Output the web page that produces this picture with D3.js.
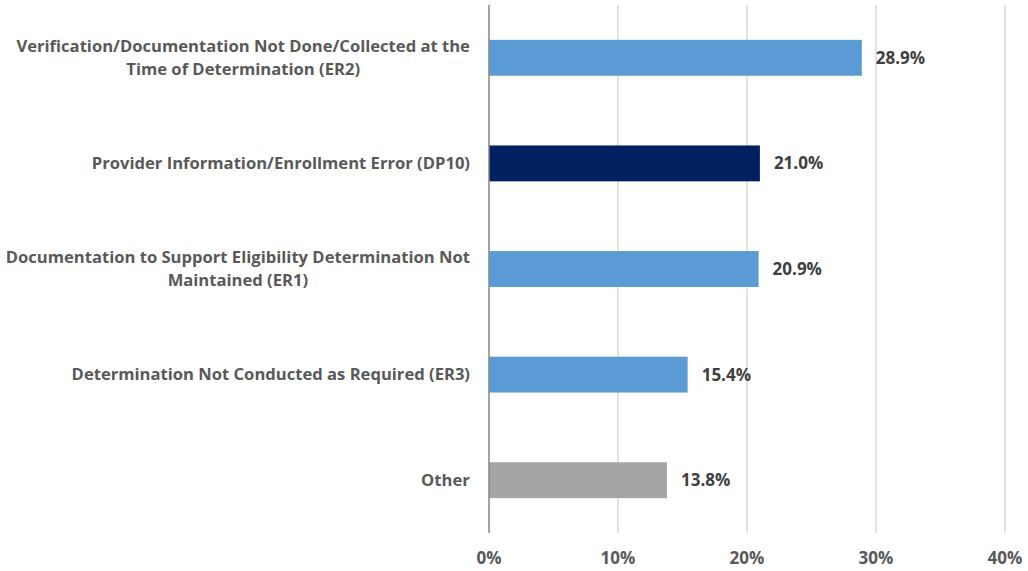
<!DOCTYPE html>
<html>
<head>
<meta charset="utf-8">
<script src="https://cdn.jsdelivr.net/npm/d3@7"></script>
<style>
  body { margin: 0; background: #fff; }
  svg { display: block; font-family: "Open Sans", Lato, sans-serif; }
</style>
</head>
<body>
<div id="chart"></div>
<script>
// chart data
const categories = [
  ["Verification/Documentation Not Done/Collected at the", "Time of Determination (ER2)"],
  ["Provider Information/Enrollment Error (DP10)"],
  ["Documentation to Support Eligibility Determination Not", "Maintained (ER1)"],
  ["Determination Not Conducted as Required (ER3)"],
  ["Other"]
];
const values = [28.9, 21.0, 20.9, 15.4, 13.8];
const barColors = ["#5B9BD5", "#002060", "#5B9BD5", "#5B9BD5", "#A5A5A5"];
const xTicks = [0, 10, 20, 30, 40];

const width = 1028, height = 571;
const margin = {top: 5, right: 23, bottom: 38, left: 489};

const svg = d3.select("#chart").append("svg")
  .attr("width", width)
  .attr("height", height);

const x = d3.scaleLinear().domain([0, 40]).range([margin.left, width - margin.right]);
const y = d3.scaleBand().domain(d3.range(values.length))
  .range([margin.top, height - margin.bottom])
  .paddingInner(0.66).paddingOuter(0.33);

// vertical gridlines
svg.append("g").selectAll("line")
  .data(xTicks.filter(t => t > 0))
  .join("line")
  .attr("x1", d => x(d)).attr("x2", d => x(d))
  .attr("y1", margin.top).attr("y2", height - margin.bottom)
  .attr("stroke", "#D9D9D9").attr("stroke-width", 1.5);

// bars
svg.append("g").selectAll("rect")
  .data(values)
  .join("rect")
  .attr("x", x(0))
  .attr("y", (d, i) => y(i))
  .attr("width", d => x(d) - x(0))
  .attr("height", y.bandwidth())
  .attr("fill", (d, i) => barColors[i]);

// left axis line
svg.append("line")
  .attr("x1", x(0)).attr("x2", x(0))
  .attr("y1", margin.top).attr("y2", height - margin.bottom)
  .attr("stroke", "#868686").attr("stroke-width", 1.5);

// value labels
svg.append("g").selectAll("text")
  .data(values)
  .join("text")
  .attr("x", d => x(d) + 14)
  .attr("y", (d, i) => y(i) + y.bandwidth() / 2)
  .attr("dy", "0.35em")
  .attr("font-size", "17px")
  .attr("font-weight", "bold")
  .attr("fill", "#404040")
  .text(d => d.toFixed(1) + "%");

// x tick labels
svg.append("g").selectAll("text")
  .data(xTicks)
  .join("text")
  .attr("x", d => x(d))
  .attr("y", 558)
  .attr("dy", "0.35em")
  .attr("text-anchor", "middle")
  .attr("font-size", "17px")
  .attr("font-weight", "bold")
  .attr("fill", "#595959")
  .text(d => d + "%");

// category labels (lines centred on each other, right edge at 470)
const labelRight = 470, lineH = 23;
const catG = svg.append("g");
categories.forEach((lines, i) => {
  const t = catG.append("text")
    .attr("font-size", "16.6px")
    .attr("font-weight", "bold")
    .attr("fill", "#595959")
    .attr("text-anchor", "middle");
  const cy = y(i) + y.bandwidth() / 2;
  lines.forEach((ln, j) => {
    t.append("tspan")
      .attr("x", 0)
      .attr("y", cy + (j - (lines.length - 1) / 2) * lineH)
      .attr("dy", "0.35em")
      .text(ln);
  });
  const w = t.node().getBBox().width;
  t.selectAll("tspan").attr("x", labelRight - w / 2);
});
</script>
</body>
</html>
